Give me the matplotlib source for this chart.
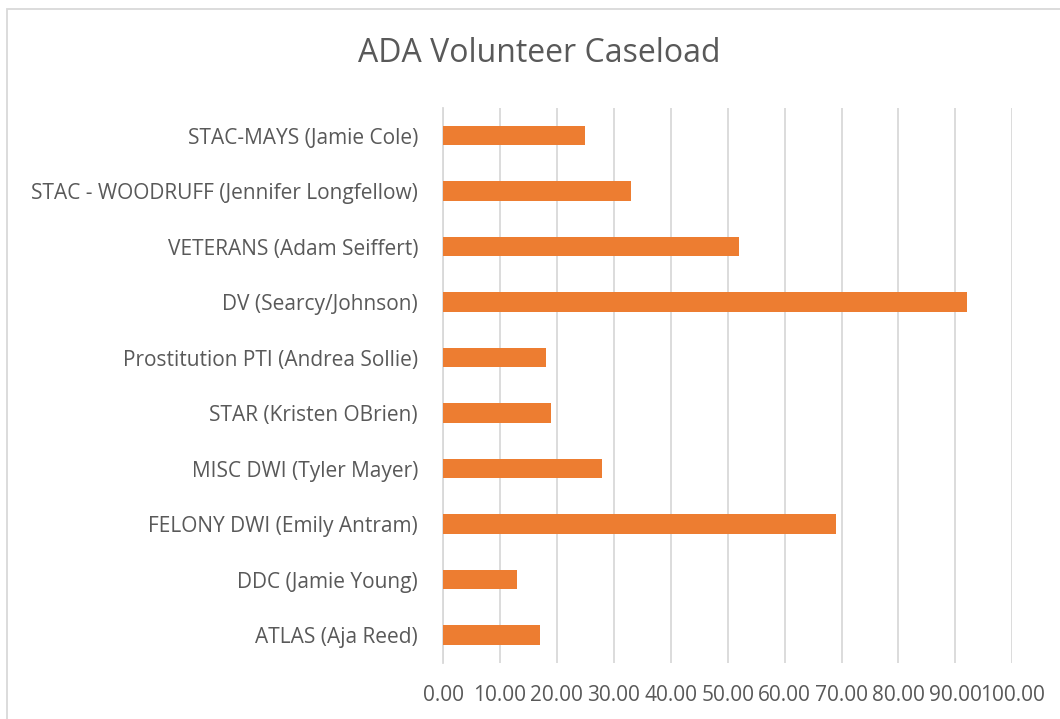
import matplotlib.pyplot as plt
from matplotlib.patches import Rectangle

plt.rcParams['font.family'] = ['Open Sans', 'DejaVu Sans']

# bottom to top, as Excel draws a bar chart
units = ['ATLAS (Aja Reed)', 'DDC (Jamie Young)', 'FELONY DWI (Emily Antram)',
         'MISC DWI (Tyler Mayer)', 'STAR (Kristen OBrien)',
         'Prostitution PTI (Andrea Sollie)', 'DV (Searcy/Johnson)',
         'VETERANS (Adam Seiffert)', 'STAC - WOODRUFF (Jennifer Longfellow)',
         'STAC-MAYS (Jamie Cole)']
caseload = [17, 13, 69, 28, 19, 18, 92, 52, 33, 25]
xticks = [0, 10, 20, 30, 40, 50, 60, 70, 80, 90, 100]

grey = '#595959'
grid = '#d9d9d9'

fig = plt.figure(figsize=(10.6, 7.19), dpi=100)
ax = fig.add_axes([0.418, 0.078, 0.537, 0.772])

ax.barh(range(len(units)), caseload, height=0.35, color='#ED7D31', zorder=3)

ax.set_xlim(0, 100)
ax.set_ylim(-0.5, len(units) - 0.5)
ax.set_xticks(xticks)
ax.set_xticklabels(['%.2f' % v for v in xticks])
ax.set_yticks(range(len(units)))
ax.set_yticklabels(units)
ax.tick_params(axis='both', length=0, labelsize=15, colors=grey)
ax.tick_params(axis='y', pad=18)
ax.tick_params(axis='x', pad=16)

ax.grid(axis='x', color=grid, linewidth=1.3, zorder=0)
for s in ['top', 'right', 'bottom']:
    ax.spines[s].set_visible(False)
ax.spines['left'].set_color(grid)
ax.spines['left'].set_linewidth(1.3)

fig.text(0.509, 1 - 54 / 719, 'ADA Volunteer Caseload', ha='center', va='center',
         fontsize=23, color=grey)

# chart area border (cropped on the right and bottom)
fig.patches.append(Rectangle((7 / 1060, -0.1), 1.2, 1.1 - 9 / 719,
                             transform=fig.transFigure, fill=False,
                             edgecolor=grid, linewidth=1.3))

fig.savefig('out.png', dpi=100)
